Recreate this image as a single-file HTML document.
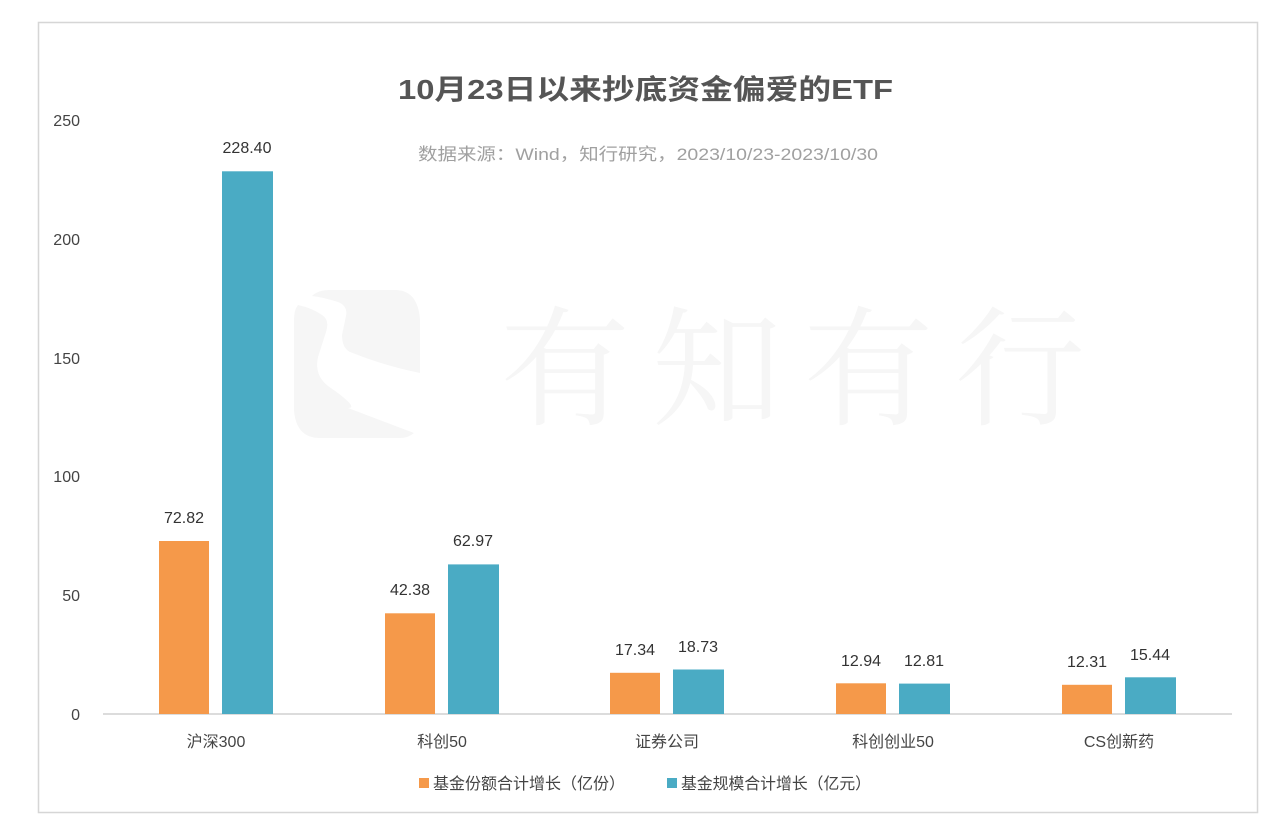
<!DOCTYPE html>
<html><head><meta charset="utf-8"><style>
html,body{margin:0;padding:0;background:#fff;}
svg{display:block;font-family:"Liberation Sans","Noto Sans CJK SC",sans-serif;}
</style></head><body>
<svg width="1280" height="840" viewBox="0 0 1280 840" xmlns="http://www.w3.org/2000/svg">
<rect x="0" y="0" width="1280" height="840" fill="#fff"/>
<rect x="38.5" y="22.5" width="1219" height="790" fill="none" stroke="#d6d6d6" stroke-width="1.5"/>
<g fill="#f6f6f6">
<path d="M312 296 Q318 290 330 290 L395 290 Q418 290 420 320 L420 373 Q385 366 350 352 Q342 348 342 335 L346 316 Q348 306 338 302 Q322 297 312 296 Z"/>
<path d="M298 305 Q312 308 322 315 Q330 320 326 332 L318 357 Q314 375 328 386 Q360 408 348 408 L414 433 Q408 438 400 438 L320 438 Q296 438 294 410 L294 320 Q294 310 298 305 Z"/>
<text x="500" y="415" font-size="130" font-family="Noto Serif CJK SC,serif" fill="#f6f6f6" textLength="585" lengthAdjust="spacing">有知有行</text>
</g>
<text x="398" y="99" font-size="28" font-weight="bold" fill="#555" textLength="495" lengthAdjust="spacingAndGlyphs">10月23日以来抄底资金偏爱的ETF</text>
<text x="418" y="160" font-size="17" fill="#a0a0a0" textLength="460" lengthAdjust="spacingAndGlyphs">数据来源：Wind，知行研究，2023/10/23-2023/10/30</text>
<g font-size="16" fill="#444" text-anchor="end">
<text x="80" y="720">0</text>
<text x="80" y="601">50</text>
<text x="80" y="482">100</text>
<text x="80" y="364">150</text>
<text x="80" y="245">200</text>
<text x="80" y="126">250</text>
</g>
<line x1="103" y1="714" x2="1232" y2="714" stroke="#d0d0d0" stroke-width="1.5"/>
<g fill="#f5994a">
<rect x="159" y="541" width="50" height="173"/>
<rect x="385" y="613.3" width="50" height="100.7"/>
<rect x="610" y="672.8" width="50" height="41.2"/>
<rect x="836" y="683.3" width="50" height="30.7"/>
<rect x="1062" y="684.8" width="50" height="29.2"/>
</g>
<g fill="#4aabc4">
<rect x="222" y="171.3" width="51" height="542.7"/>
<rect x="448" y="564.4" width="51" height="149.6"/>
<rect x="673" y="669.5" width="51" height="44.5"/>
<rect x="899" y="683.6" width="51" height="30.4"/>
<rect x="1125" y="677.3" width="51" height="36.7"/>
</g>
<g font-size="16" fill="#333" text-anchor="middle">
<text x="184" y="523">72.82</text>
<text x="247" y="153">228.40</text>
<text x="410" y="595">42.38</text>
<text x="473" y="546">62.97</text>
<text x="635" y="655">17.34</text>
<text x="698" y="652">18.73</text>
<text x="861" y="666">12.94</text>
<text x="924" y="666">12.81</text>
<text x="1087" y="667">12.31</text>
<text x="1150" y="660">15.44</text>
</g>
<g font-size="16" fill="#444" text-anchor="middle">
<text x="216" y="747">沪深300</text>
<text x="442" y="747">科创50</text>
<text x="667" y="747">证券公司</text>
<text x="893" y="747">科创创业50</text>
<text x="1119" y="747">CS创新药</text>
</g>
<rect x="419" y="778" width="10" height="10" fill="#f5994a"/>
<text x="433" y="789" font-size="16" fill="#444">基金份额合计增长（亿份）</text>
<rect x="667" y="778" width="10" height="10" fill="#4aabc4"/>
<text x="681" y="789" font-size="16" fill="#444" textLength="190" lengthAdjust="spacingAndGlyphs">基金规模合计增长（亿元）</text>
</svg>
</body></html>
